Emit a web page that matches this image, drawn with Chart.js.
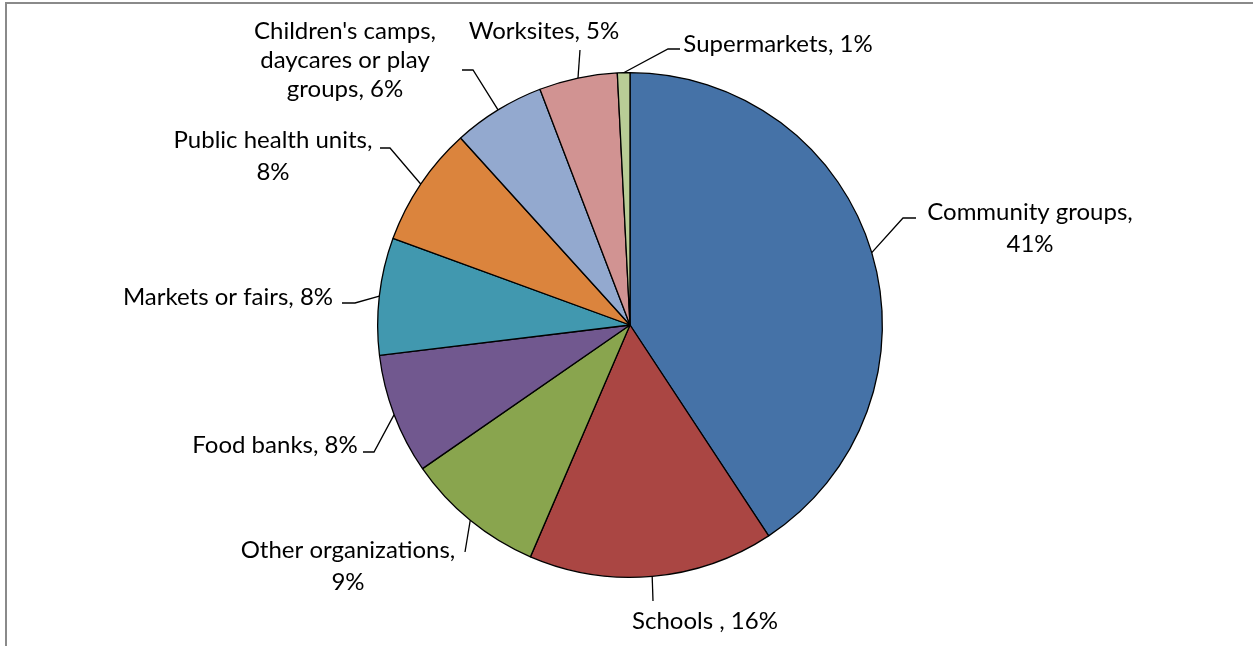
<!DOCTYPE html>
<html>
<head>
<meta charset="utf-8">
<script src="https://cdn.jsdelivr.net/npm/chart.js@4.4.1/dist/chart.umd.min.js"></script>
<style>
  html, body { margin: 0; padding: 0; background: #fff; }
  #wrap { position: relative; width: 1253px; height: 646px; overflow: hidden; }
  #frame { position: absolute; left: 5px; top: 2px; width: 1260px; height: 660px;
           border-top: 2px solid #8a8a8a; border-left: 2px solid #8a8a8a; }
  canvas { position: absolute; left: 0; top: 0; }
</style>
</head>
<body>
<div id="wrap">
  <div id="frame"></div>
  <canvas id="pie" width="1253" height="646"></canvas>
</div>
<script>
// Share of events by organization type
const categories = ['Community groups', 'Schools ', 'Other organizations', 'Food banks',
  'Markets or fairs', 'Public health units', "Children's camps, daycares or play groups",
  'Worksites', 'Supermarkets'];
const shares = [40.7, 15.7, 8.9, 7.7, 7.5, 7.7, 5.9, 5.0, 0.8];
const shownPct = ['41%', '16%', '9%', '8%', '8%', '8%', '6%', '5%', '1%'];
const colors = ['#4572A7', '#AA4643', '#89A54E', '#71588F', '#4198AF',
  '#DB843D', '#93A9CF', '#D19392', '#B9CD96'];

// label layout: text lines, centre x, first line middle y, leader elbow + end
const labelLayout = [
  { lines: ['Community groups,', '41%'], x: 1030, y: 212, elbow: [903, 218], end: [916, 218] },
  { lines: ['Schools , 16%'], x: 705, y: 621, elbow: [653, 601] },
  { lines: ['Other organizations,', '9%'], x: 348, y: 550, elbow: [465, 552] },
  { lines: ['Food banks, 8%'], x: 275, y: 445, elbow: [374, 452], end: [363, 452] },
  { lines: ['Markets or fairs, 8%'], x: 228, y: 297, elbow: [355, 303], end: [342, 303] },
  { lines: ['Public health units,', '8%'], x: 273, y: 140, elbow: [390, 148], end: [380, 148] },
  { lines: ["Children's camps,", 'daycares or play', 'groups, 6%'], x: 345, y: 31, lh: 29, elbow: [473, 70], end: [462, 70] },
  { lines: ['Worksites, 5%'], x: 544, y: 31, elbow: [580, 50] },
  { lines: ['Supermarkets, 1%'], x: 778, y: 44, elbow: [668, 49], end: [680, 49] }
];

const FONT = '24px Lato, "Open Sans", sans-serif';

const leaderLabels = {
  id: 'leaderLabels',
  afterDatasetsDraw(chart) {
    const ctx = chart.ctx;
    const arcs = chart.getDatasetMeta(0).data;
    ctx.save();
    ctx.font = FONT;
    ctx.fillStyle = '#000';
    ctx.strokeStyle = '#000';
    ctx.lineWidth = 1.3;
    ctx.textAlign = 'center';
    ctx.textBaseline = 'middle';
    arcs.forEach((arc, i) => {
      const L = labelLayout[i];
      const p = arc.getProps(['x', 'y', 'startAngle', 'endAngle', 'outerRadius'], true);
      const mid = (p.startAngle + p.endAngle) / 2;
      const sx = p.x + Math.cos(mid) * p.outerRadius;
      const sy = p.y + Math.sin(mid) * p.outerRadius;
      ctx.beginPath();
      ctx.moveTo(sx, sy);
      ctx.lineTo(L.elbow[0], L.elbow[1]);
      if (L.end) ctx.lineTo(L.end[0], L.end[1]);
      ctx.stroke();
      const lh = L.lh || 32;
      L.lines.forEach((t, k) => ctx.fillText(t, L.x, L.y + k * lh));
    });
    ctx.restore();
  }
};

new Chart(document.getElementById('pie'), {
  type: 'pie',
  data: {
    labels: categories,
    datasets: [{
      data: shares,
      backgroundColor: colors,
      borderColor: '#000',
      borderWidth: 1.3
    }]
  },
  options: {
    responsive: false,
    animation: false,
    layout: { padding: { left: 377, right: 370, top: 72, bottom: 68 } },
    plugins: {
      legend: { display: false },
      tooltip: { enabled: false },
      title: { display: false }
    }
  },
  plugins: [leaderLabels]
});
</script>
</body>
</html>
